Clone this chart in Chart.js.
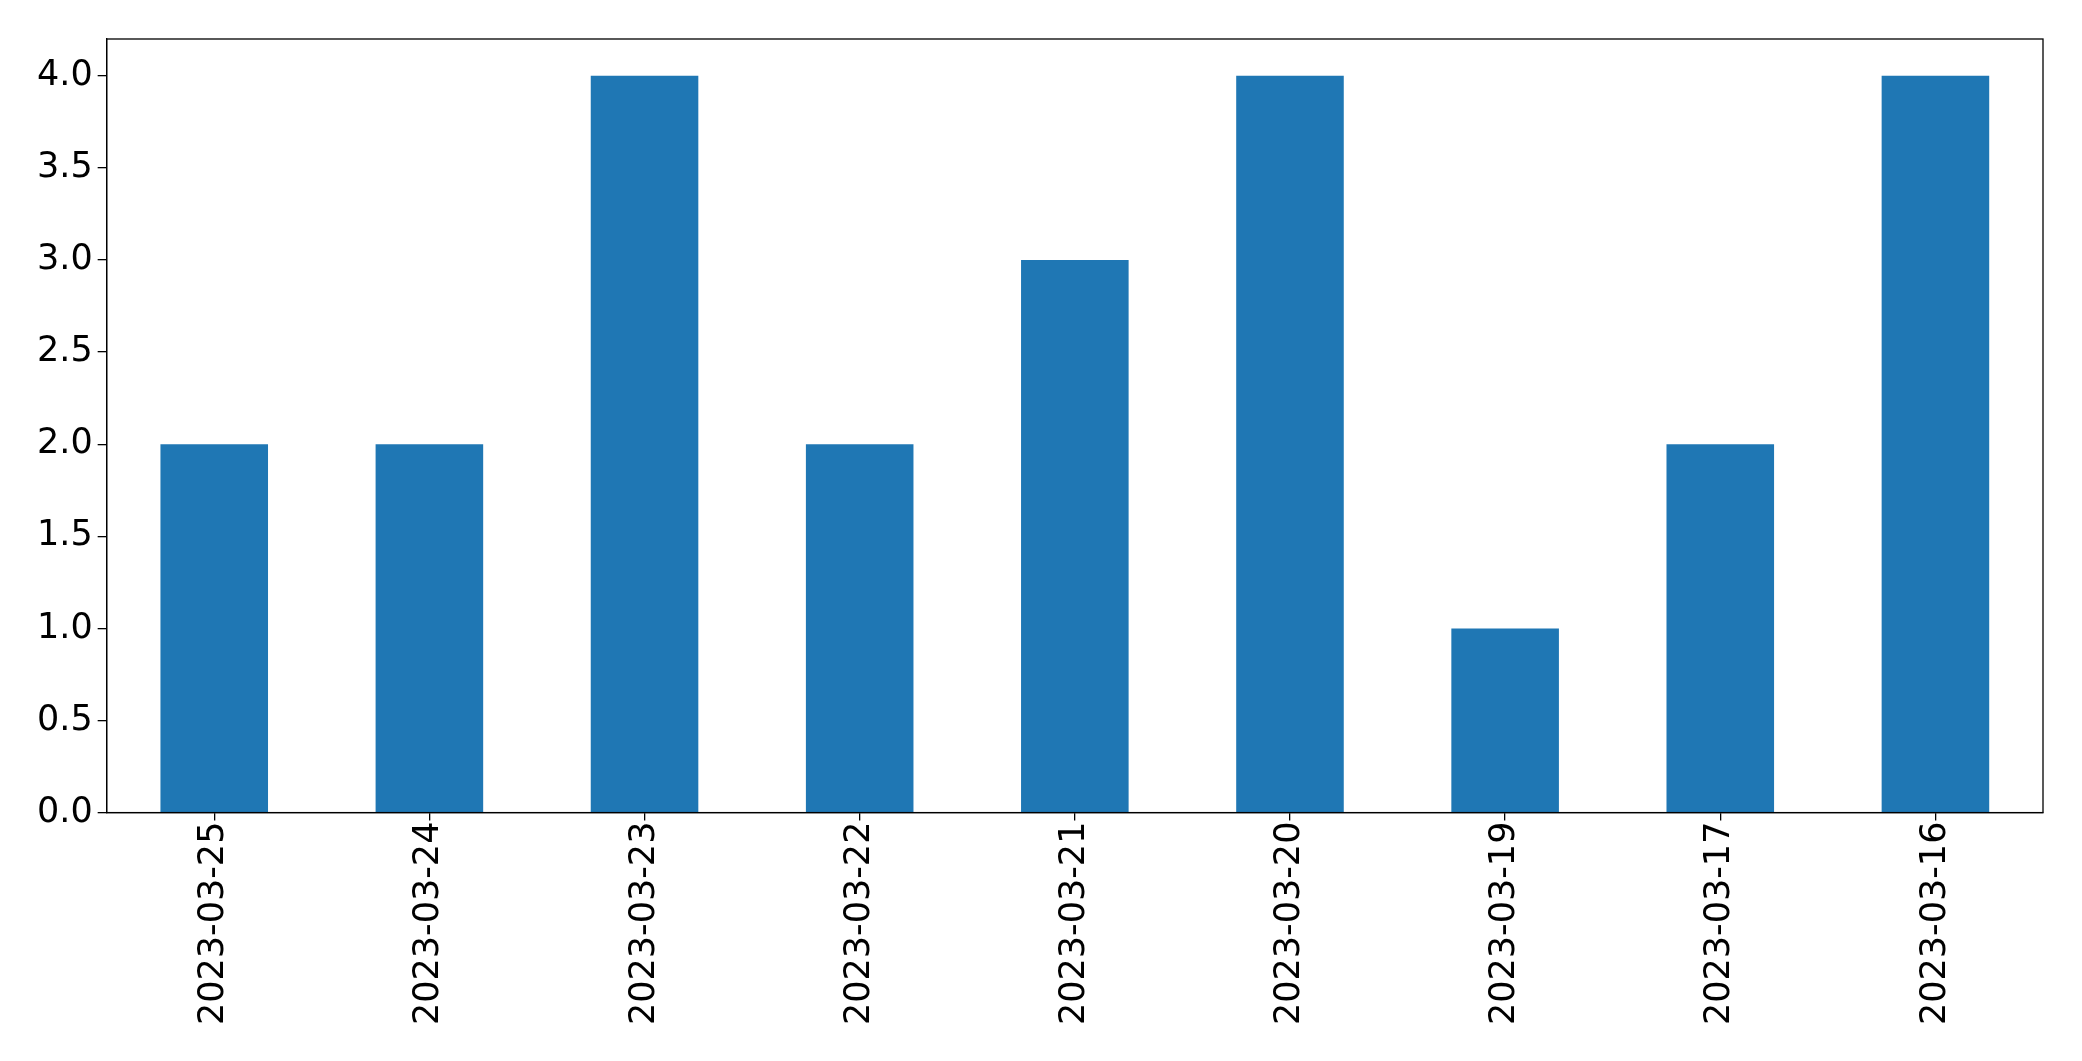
<!DOCTYPE html>
<html>
<head>
<meta charset="utf-8">
<script src="https://cdn.jsdelivr.net/npm/chart.js@4/dist/chart.umd.min.js"></script>
<style>
  html, body { margin: 0; padding: 0; background: #fff; }
  #wrap { width: 2082px; height: 1061px; }
</style>
</head>
<body>
<div id="wrap"><canvas id="chart" width="2082" height="1061"></canvas></div>
<script>
// dates as they appear on the x axis (newest first)
const dates = ['2023-03-25', '2023-03-24', '2023-03-23', '2023-03-22', '2023-03-21',
               '2023-03-20', '2023-03-19', '2023-03-17', '2023-03-16'];
const counts = [2, 2, 4, 2, 3, 4, 1, 2, 4];
const yMin = 0;
const yMax = 4.2;
const yStep = 0.5;

// draws the closed box round the plot area, like matplotlib's spines
const frameBox = {
    id: 'frameBox',
    afterDraw(chart) {
        const a = chart.chartArea;
        const c = chart.ctx;
        c.save();
        c.strokeStyle = '#000';
        c.lineWidth = 1.3;
        c.strokeRect(a.left, a.top, a.right - a.left, a.bottom - a.top);
        c.restore();
    }
};

const tickFont = { family: '"DejaVu Sans", sans-serif', size: 35 };

new Chart(document.getElementById('chart'), {
    type: 'bar',
    data: {
        labels: dates,
        datasets: [{
            data: counts,
            backgroundColor: '#1f77b4',
            borderWidth: 0,
            barPercentage: 0.5,
            categoryPercentage: 1.0
        }]
    },
    options: {
        responsive: false,
        animation: false,
        devicePixelRatio: 1,
        layout: { padding: { top: 39, right: 39, left: 32, bottom: 35 } },
        plugins: {
            legend: { display: false },
            tooltip: { enabled: false }
        },
        scales: {
            x: {
                grid: { display: true, offset: false, drawOnChartArea: false, drawTicks: true, tickLength: 8, color: '#000', lineWidth: 1.3 },
                border: { display: true, color: '#000', width: 1.3 },
                ticks: {
                    font: tickFont,
                    color: '#000',
                    minRotation: 90,
                    maxRotation: 90,
                    autoSkip: false,
                    padding: 1
                }
            },
            y: {
                min: yMin,
                max: yMax,
                grid: { display: true, drawOnChartArea: false, drawTicks: true, tickLength: 9, color: '#000', lineWidth: 1.3 },
                border: { display: true, color: '#000', width: 1.3 },
                ticks: {
                    font: tickFont,
                    color: '#000',
                    stepSize: yStep,
                    includeBounds: false,
                    padding: 5,
                    callback: v => v.toFixed(1)
                }
            }
        }
    },
    plugins: [frameBox]
});
</script>
</body>
</html>
